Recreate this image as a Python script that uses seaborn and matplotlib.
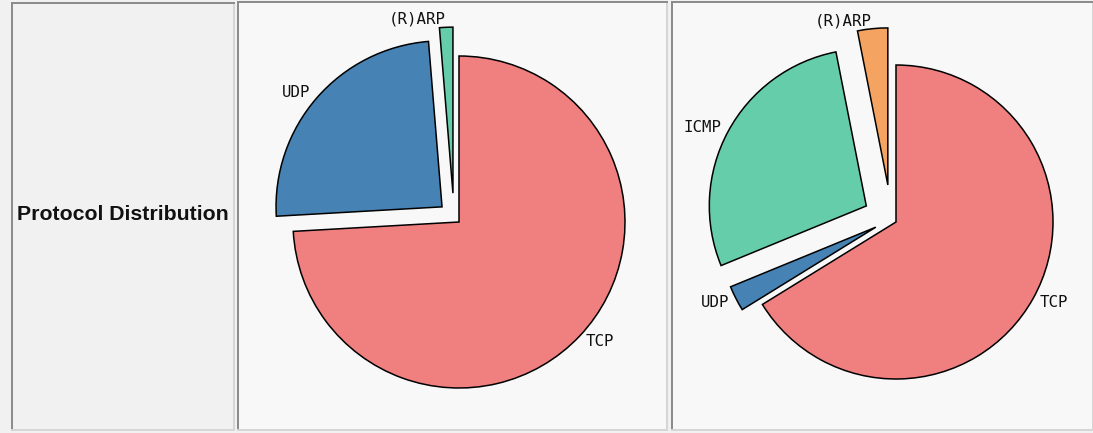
import matplotlib
matplotlib.use('Agg')
import matplotlib.pyplot as plt
import numpy as np
import seaborn as sns

# 数据: 两个时段的协议分布(百分比, 从图上估读)
protocols_a = ['TCP', 'UDP', '(R)ARP']
share_a = [74.1, 24.6, 1.3]

protocols_b = ['TCP', 'UDP', 'ICMP', '(R)ARP']
share_b = [66.2, 2.6, 28.1, 3.1]

title_text = 'Protocol Distribution'

# 样式
colors_a = ['#F08080', '#4682B4', '#66CDAA']
colors_b = ['#F08080', '#4682B4', '#66CDAA', '#F4A460']
explode_a = [0.042, 0.095, 0.145]
explode_b = [0.035, 0.11, 0.18, 0.22]

W, H = 1093, 433
BG = '#F1F1F1'
PANEL_BG = '#F8F8F8'


def px_axes(fig, x0, y0, x1, y1):
    """按像素坐标(左上为原点)建立axes"""
    return fig.add_axes([x0 / W, (H - y1) / H, (x1 - x0) / W, (y1 - y0) / H])


def style_panel(ax, face):
    ax.set_facecolor(face)
    ax.set_frame_on(True)
    ax.set_xticks([])
    ax.set_yticks([])
    for side in ['top', 'left']:
        ax.spines[side].set_color('#8A8A8A')
        ax.spines[side].set_linewidth(1.4)
    for side in ['bottom', 'right']:
        ax.spines[side].set_color('#D6D6D6')
        ax.spines[side].set_linewidth(1.4)
        ax.spines[side].set_visible(True)


def draw_pie(ax, box, corner, radius, values, labels, colors, explode):
    """
    在像素面板中绘制饼图
    :param corner: 第一块(TCP)扇形顶点的像素位置
    :param radius: 半径(像素)
    """
    x0, y0, x1, y1 = box
    ax.pie(values, labels=labels, colors=colors, explode=explode,
           startangle=90, counterclock=False, labeldistance=1.05,
           wedgeprops=dict(edgecolor='black', linewidth=1.1),
           textprops=dict(family='DejaVu Sans Mono', fontsize=11.3, color='#111111'))
    # 第一块扇形也有偏移, 反推饼图原点位置
    mid = np.deg2rad(90 - 180 * values[0] / sum(values))
    cx = corner[0] - explode[0] * np.cos(mid) * radius
    cy = corner[1] + explode[0] * np.sin(mid) * radius
    ax.set_aspect('auto')
    ax.set_xlim(-(cx - x0) / radius, (x1 - cx) / radius)
    ax.set_ylim(-(y1 - cy) / radius, (cy - y0) / radius)
    style_panel(ax, PANEL_BG)


def main():
    sns.set_theme(style='white')
    plt.rcParams['font.family'] = ['Liberation Sans', 'DejaVu Sans']

    fig = plt.figure(figsize=(W / 100, H / 100), dpi=100)
    fig.patch.set_facecolor(BG)

    # 左侧标题面板
    ax_t = px_axes(fig, 12, 3, 234, 430)
    style_panel(ax_t, BG)
    ax_t.text(0.5, 0.505, title_text, transform=ax_t.transAxes,
              ha='center', va='center', fontsize=15.3, fontweight='bold',
              color='#111111')

    box1 = (238, 2, 667, 430)
    ax1 = px_axes(fig, *box1)
    draw_pie(ax1, box1, (459, 222), 166, share_a, protocols_a, colors_a, explode_a)

    box2 = (672, 2, 1093, 430)
    ax2 = px_axes(fig, *box2)
    draw_pie(ax2, box2, (896, 222), 157, share_b, protocols_b, colors_b, explode_b)

    fig.savefig('out.png', dpi=100, facecolor=fig.get_facecolor())


if __name__ == '__main__':
    main()
